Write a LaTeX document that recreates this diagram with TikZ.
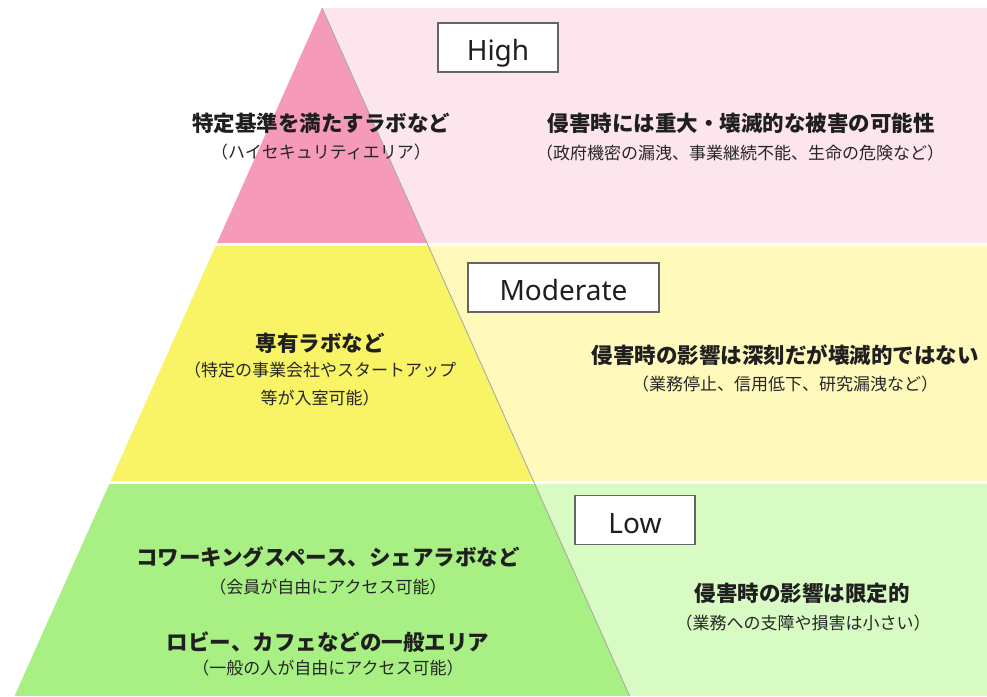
\documentclass[tikz,border=0pt]{standalone}
\usepackage{fontspec}
\setmainfont{Noto Sans CJK JP}
\newfontfamily\labelfont{Noto Sans}
\definecolor{pinkpyr}{RGB}{246,154,186}
\definecolor{pinkpanel}{RGB}{253,229,237}
\definecolor{yellowpyr}{RGB}{249,243,102}
\definecolor{yellowpanel}{RGB}{255,250,188}
\definecolor{greenpyr}{RGB}{168,240,132}
\definecolor{greenpanel}{RGB}{215,251,194}
\definecolor{dividergray}{RGB}{170,170,170}
\definecolor{boxgray}{RGB}{100,100,100}
\tikzset{
  maintext/.style={inner sep=0pt, font=\fontsize{21.5}{24}\selectfont\bfseries, text=black!88},
  subtext/.style={inner sep=0pt, font=\fontsize{17}{20}\selectfont, text=black!85},
  levelbox/.style={draw=boxgray, line width=1.1pt, fill=white, inner sep=0pt,
    font=\labelfont\fontsize{28}{30}\selectfont, text=black!88,
    text height=26pt, text depth=0pt, minimum height=49pt},
  divider/.style={draw=dividergray, line width=0.9pt}
}
\begin{document}
\begin{tikzpicture}[x=1pt,y=-1pt]
\useasboundingbox (0,0) rectangle (987,696);
% right panels
\fill[pinkpanel] (322,8) rectangle (987,243);
\fill[yellowpanel] (322,246) rectangle (987,481);
\fill[greenpanel] (322,484) rectangle (987,696);
% pyramid
\coordinate (apex) at (322,8);
\coordinate (baseR) at (629.5,696);
\coordinate (baseL) at (14.5,696);
\begin{scope}
  \clip (apex) -- (baseR) -- (baseL) -- cycle;
  \fill[pinkpyr] (0,0) rectangle (700,243);
  \fill[yellowpyr] (0,246) rectangle (700,481);
  \fill[greenpyr] (0,484) rectangle (700,696);
\end{scope}
\draw[divider] (apex) -- (baseR);
% level boxes
\node[levelbox, minimum width=120pt] (high) at (498,47.5) {High};
\node[levelbox, minimum width=191pt] (moderate) at (563.5,287.5) {Moderate};
\node[levelbox, minimum width=120pt] (low) at (635,520) {Low};
% High band
\node[maintext] (hl1) at (321,123) {特定基準を満たすラボなど};
\node[subtext] (hl2) at (321,152) {（ハイセキュリティエリア）};
\node[maintext] (hr1) at (741,123) {侵害時には重大・壊滅的な被害の可能性};
\node[subtext] (hr2) at (740,153) {（政府機密の漏洩、事業継続不能、生命の危険など）};
% Moderate band
\node[maintext] (ml1) at (320,343) {専有ラボなど};
\node[subtext] (ml2) at (320,370) {（特定の事業会社やスタートアップ};
\node[subtext] (ml3) at (320,398) {等が入室可能）};
\node[maintext] (mr1) at (785,355) {侵害時の影響は深刻だが壊滅的ではない};
\node[subtext] (mr2) at (785,384) {（業務停止、信用低下、研究漏洩など）};
% Low band
\node[maintext] (ll1) at (328,557) {コワーキングスペース、シェアラボなど};
\node[subtext] (ll2) at (328,587) {（会員が自由にアクセス可能）};
\node[maintext] (ll3) at (328,642) {ロビー、カフェなどの一般エリア};
\node[subtext] (ll4) at (328,668) {（一般の人が自由にアクセス可能）};
\node[maintext] (lr1) at (802,593) {侵害時の影響は限定的};
\node[subtext] (lr2) at (803,623) {（業務への支障や損害は小さい）};
\end{tikzpicture}
\end{document}
